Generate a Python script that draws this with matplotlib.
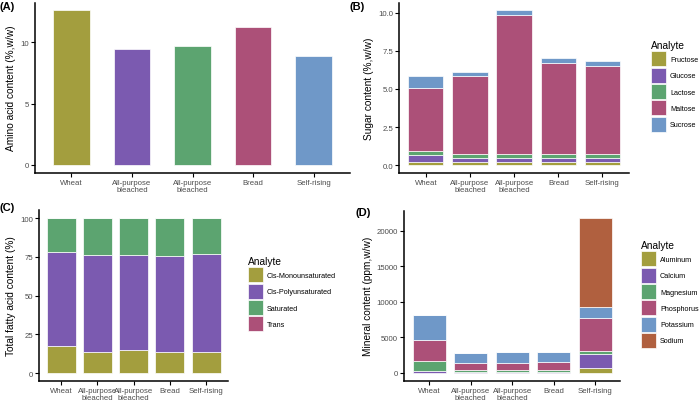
import numpy as np
import matplotlib.pyplot as plt

plt.rcParams['font.family'] = ['Liberation Sans', 'DejaVu Sans']

flours = ["Wheat", "All-purpose\nbleached", "All-purpose\nbleached", "Bread", "Self-rising"]

# (A) amino acids
amino = [12.6, 9.45, 9.67, 11.27, 8.91]

# (B) sugars
sugar_names = ["Fructose", "Glucose", "Lactose", "Maltose", "Sucrose"]
fructose = [0.22, 0.22, 0.22, 0.22, 0.22]
glucose = [0.43, 0.26, 0.26, 0.26, 0.26]
lactose = [0.25, 0.24, 0.24, 0.24, 0.24]
maltose = [4.17, 5.13, 9.11, 5.98, 5.79]
sucrose = [0.78, 0.26, 0.32, 0.31, 0.32]

# (C) fatty acids
fat_names = ["Cis-Monounsaturated", "Cis-Polyunsaturated", "Saturated", "Trans"]
mono = [17.6, 13.5, 14.8, 13.5, 13.5]
poly = [60.5, 62.8, 61.5, 62.2, 63.1]
sat = [21.9, 23.7, 23.7, 24.3, 23.4]
trans = [0, 0, 0, 0, 0]

# (D) minerals
mineral_names = ["Aluminum", "Calcium", "Magnesium", "Phosphorus", "Potassium", "Sodium"]
aluminum = [30, 30, 30, 30, 750]
calcium = [300, 160, 160, 160, 1920]
magnesium = [1380, 230, 230, 230, 420]
phosphorus = [2950, 985, 985, 1130, 4685]
potassium = [3540, 1450, 1545, 1450, 1545]
sodium = [0, 0, 0, 0, 12410]

cols = ["#A39E3E", "#7B5AB0", "#5CA470", "#AC5078", "#6F98C8", "#B0603F"]

W, H = 700, 402
fig = plt.figure(figsize=(7, 4.02), dpi=100)


def add_ax(l, r, t, b):
    return fig.add_axes([l / W, 1 - b / H, (r - l) / W, (b - t) / H])


def style(ax, ylabel, ticks, ticklabels):
    for s in ["top", "right"]:
        ax.spines[s].set_visible(False)
    for s in ["left", "bottom"]:
        ax.spines[s].set_linewidth(1.1)
    ax.set_xticks(range(5))
    ax.set_xticklabels(flours, fontsize=5.6, color="#4D4D4D", linespacing=0.95)
    ax.set_yticks(ticks)
    ax.set_yticklabels(ticklabels, fontsize=5.6, color="#4D4D4D")
    ax.tick_params(length=3, width=0.8, pad=1.5)
    ax.set_xlim(-0.6, 4.6)
    ax.set_ylabel(ylabel, fontsize=7.3, labelpad=3)


def stack(ax, series, names, lx, ly, width=0.8):
    x = np.arange(5)
    bottom = np.zeros(5)
    for i, (vals, name) in enumerate(zip(series, names)):
        ax.bar(x, vals, width, bottom=bottom, color=cols[i], edgecolor="white",
               linewidth=0.5, label=name)
        bottom += np.array(vals)
    leg = ax.legend(loc="upper left", bbox_to_anchor=(lx / W, 1 - ly / H),
                    bbox_transform=fig.transFigure, frameon=False, borderpad=0,
                    borderaxespad=0, title="Analyte", fontsize=5.2, title_fontsize=7.3,
                    alignment="left", handlelength=2.08, handleheight=2.82,
                    labelspacing=0.18, handletextpad=0.55)
    return leg


# (A)
axA = add_ax(35, 350, 3.7, 173.7)
axA.bar(np.arange(5), amino, 0.6, color=cols[:5], edgecolor="white", linewidth=0.5)
axA.set_ylim(-0.63, 13.23)
style(axA, "Amino acid content (%,w/w)", [0, 5, 10], ["0", "5", "10"])

# (B)
axB = add_ax(399.3, 629, 3.5, 174)
stack(axB, [fructose, glucose, lactose, maltose, sucrose], sugar_names, 651, 41)
axB.set_ylim(-0.51, 10.66)
style(axB, "Sugar content (%,w/w)", [0, 2.5, 5, 7.5, 10], ["0.0", "2.5", "5.0", "7.5", "10.0"])

# (C)
axC = add_ax(39.3, 228, 211.3, 381.8)
stack(axC, [mono, poly, sat, trans], fat_names, 248, 257)
axC.set_ylim(-5, 105)
style(axC, "Total fatty acid content (%)", [0, 25, 50, 75, 100], ["0", "25", "50", "75", "100"])

# (D)
axD = add_ax(404.3, 620, 211.6, 381.7)
stack(axD, [aluminum, calcium, magnesium, phosphorus, potassium, sodium], mineral_names,
      641, 241)
axD.set_ylim(-1087, 22820)
style(axD, "Mineral content (ppm,w/w)", [0, 5000, 10000, 15000, 20000],
      ["0", "5000", "10000", "15000", "20000"])

for lab, x, y in [("(A)", 0, 2), ("(B)", 350, 2), ("(C)", 0, 203), ("(D)", 355, 208)]:
    fig.text(x / W, 1 - y / H, lab, fontsize=8, fontweight="bold", va="top", ha="left")

fig.savefig("out.png", dpi=100)
